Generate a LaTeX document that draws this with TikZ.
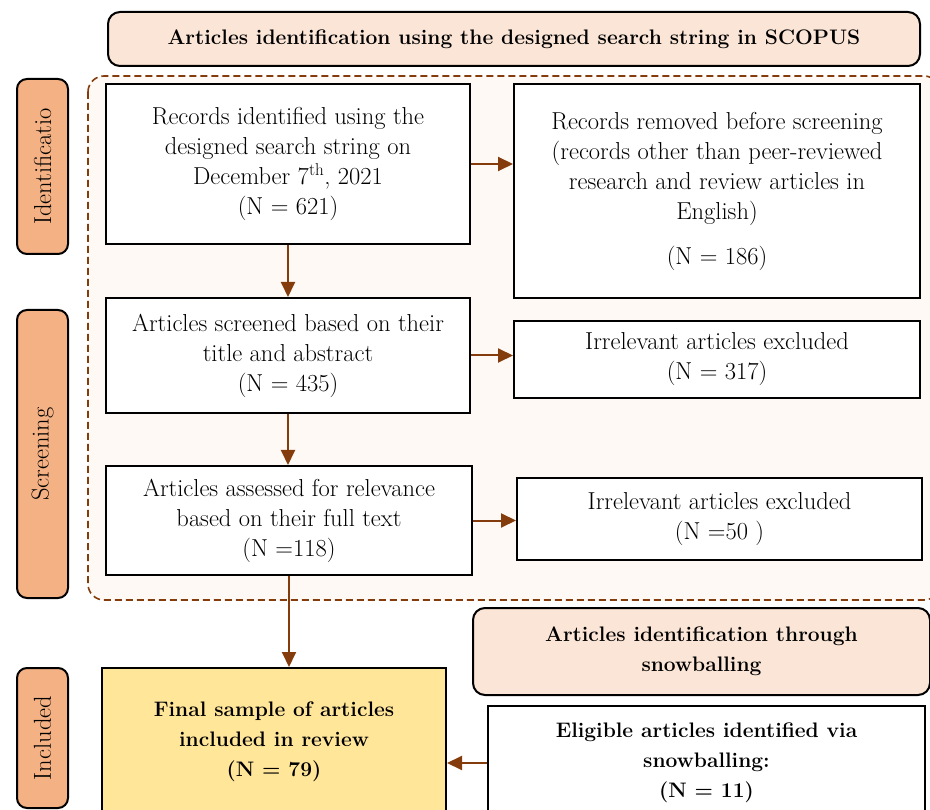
\documentclass[tikz,border=0pt]{standalone}
\usepackage{fontspec}
\usetikzlibrary{arrows.meta}
\definecolor{peach}{HTML}{FBE5D6}
\definecolor{salmon}{HTML}{F4B183}
\definecolor{gold}{HTML}{FFE699}
\definecolor{rust}{HTML}{843C0C}
\definecolor{blush}{HTML}{FFF9F6}
\begin{document}
\begin{tikzpicture}
                \tikzset{x=1pt, y=-1pt}
                \tikzstyle{txt}=[font=\fontsize{24.5}{30}\selectfont, align=center, inner sep=0pt]
                \tikzstyle{box}=[rectangle, draw, line width=2pt, fill=white, txt]
                \tikzstyle{strong}=[font=\fontsize{21}{30}\selectfont\bfseries]
                \tikzstyle{head}=[box, rounded corners=12pt, fill=peach, strong]
                \tikzstyle{phase}=[box, rounded corners=10pt, fill=salmon, rotate=90, minimum height=51pt]
                \tikzstyle{flow}=[draw=rust, line width=2pt, -{Triangle[length=15pt, width=14pt]}]

                \useasboundingbox (0,0) rectangle (930,810);
                \clip (0,0) rectangle (930,810);

                \draw [rust, dashed, line width=1.6pt, dash pattern=on 7pt off 4pt,
                       rounded corners=16pt, fill=blush] (88,76) rectangle (940,600);

                \draw (514.0, 39.0)   node[head, minimum width=812pt, minimum height=54pt] (scopus)
                        {Articles identification using the designed search string in SCOPUS};

                \draw (42.5, 166.5)   node[phase, minimum width=175pt] (ident)  {Identificatio};
                \draw (42.5, 454.0)   node[phase, minimum width=288pt] (screen) {Screening};
                \draw (42.5, 738.0)   node[phase, minimum width=140pt] (incl)   {Included};

                \draw (288.0, 164.0)  node[box, minimum width=364pt, minimum height=160pt] (found)
                        {Records identified using the\\designed search string on\\December 7\textsuperscript{th}, 2021\\(N = 621)};
                \draw (717.0, 191.0)  node[box, minimum width=406pt, minimum height=214pt] (removed)
                        {Records removed before screening\\(records other than peer-reviewed\\research and review articles in\\English)\\[15pt](N = 186)};

                \draw (288.0, 355.5)  node[box, minimum width=364pt, minimum height=115pt] (abstr)
                        {Articles screened based on their\\title and abstract\\(N = 435)};
                \draw (717.0, 359.5)  node[box, minimum width=406pt, minimum height=77pt]  (excl1)
                        {Irrelevant articles excluded\\(N = 317)};

                \draw (289.0, 520.5)  node[box, minimum width=366pt, minimum height=109pt] (fulltext)
                        {Articles assessed for relevance\\based on their full text\\(N =118)};
                \draw (719.5, 519.0)  node[box, minimum width=405pt, minimum height=82pt]  (excl2)
                        {Irrelevant articles excluded\\(N =50 )};

                \draw (701.5, 651.5)  node[head, minimum width=457pt, minimum height=87pt] (snowhead)
                        {Articles identification through\\snowballing};

                \draw (274.0, 742.0)  node[box, fill=gold, strong, minimum width=344pt, minimum height=148pt] (final)
                        {Final sample of articles\\included in review\\(N = 79)};
                \draw (706.5, 763.0)  node[box, strong, minimum width=437pt, minimum height=114pt] (snow)
                        {Eligible articles identified via\\snowballing:\\(N = 11)};

                \draw [flow]        (found.east) -- (found.east -| removed.west);
                \draw [flow]        (found) -- (abstr);
                \draw [flow]        (abstr.east) -- (abstr.east -| excl1.west);
                \draw [flow]        (abstr.south) -- (abstr.south |- fulltext.north);
                \draw [flow]        (fulltext.east) -- (fulltext.east -| excl2.west);
                \draw [flow]        (fulltext.south) -- (fulltext.south |- final.north);
                \draw [flow]        (snow.west) -- (snow.west -| final.east);
            \end{tikzpicture}
\end{document}
